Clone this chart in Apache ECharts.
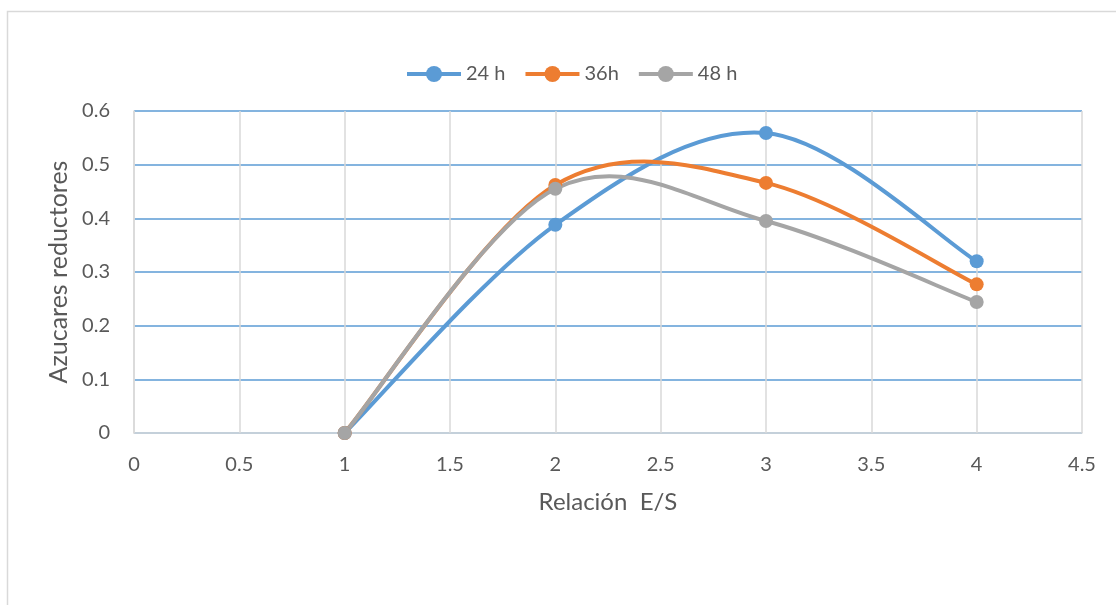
<!DOCTYPE html>
<html>
<head>
<meta charset="utf-8">
<script src="https://cdn.jsdelivr.net/npm/echarts@6/dist/echarts.min.js"></script>
<style>
  html, body { margin: 0; padding: 0; background: #ffffff; }
  #chart { width: 1116px; height: 605px; }
</style>
</head>
<body>
<div id="chart"></div>
<script>
// Relación E/S vs azúcares reductores at three incubation times
const ratios = [1, 2, 3, 4];
const values24h = [0, 0.388, 0.559, 0.320];
const values36h = [0, 0.462, 0.466, 0.277];
const values48h = [0, 0.455, 0.395, 0.244];
const seriesNames = ['24 h', '36h', '48 h'];
const seriesColors = ['#5B9BD5', '#ED7D31', '#A5A5A5'];

const FONT = 'Lato, "Open Sans", sans-serif';
const TEXT = '#595959';

function pairs(xs, ys) {
  return xs.map((x, i) => [x, ys[i]]);
}

// Smooth curve through the points (Catmull-Rom spline converted to cubic
// Bézier segments), computed in pixel space from the axis scales.
function splineSeries(ys, color) {
  const data = pairs(ratios, ys);
  return {
    type: 'custom',
    coordinateSystem: 'cartesian2d',
    data: data,
    encode: { x: 0, y: 1 },
    z: 2,
    silent: true,
    renderItem: function (params, api) {
      const i = params.dataIndex;
      if (i !== 0) return null;
      const pts = data.map(d => api.coord(d));
      const n = pts.length;
      let d = 'M' + pts[0][0] + ' ' + pts[0][1];
      for (let k = 0; k < n - 1; k++) {
        const p0 = pts[Math.max(k - 1, 0)];
        const p1 = pts[k];
        const p2 = pts[k + 1];
        const p3 = pts[Math.min(k + 2, n - 1)];
        const c1x = p1[0] + (p2[0] - p0[0]) / 6;
        const c1y = p1[1] + (p2[1] - p0[1]) / 6;
        const c2x = p2[0] - (p3[0] - p1[0]) / 6;
        const c2y = p2[1] - (p3[1] - p1[1]) / 6;
        d += ' C' + c1x + ' ' + c1y + ' ' + c2x + ' ' + c2y + ' ' + p2[0] + ' ' + p2[1];
      }
      return {
        type: 'path',
        shape: { pathData: d },
        style: { fill: 'none', stroke: color, lineWidth: 4, lineJoin: 'round', lineCap: 'round' }
      };
    },
    animation: false
  };
}

// Markers (and legend entries) for each series; the connecting curve is drawn by the spline series.
function markerSeries(name, ys, color) {
  return {
    name: name,
    type: 'line',
    data: pairs(ratios, ys),
    symbol: 'circle',
    symbolSize: 14,
    showSymbol: true,
    z: 3,
    itemStyle: { color: color },
    lineStyle: { color: color, width: 4, opacity: 0 },
    emphasis: { disabled: true },
    animation: false
  };
}

const chart = echarts.init(document.getElementById('chart'), null, { renderer: 'canvas' });
chart.setOption({
  backgroundColor: '#ffffff',
  animation: false,
  graphic: [{
    type: 'rect',
    shape: { x: 7.5, y: 11.5, width: 1200, height: 700 },
    style: { fill: 'none', stroke: '#d9d9d9', lineWidth: 1.5 },
    silent: true,
    z: -10
  }],
  legend: {
    top: 59,
    left: 400,
    itemWidth: 54,
    itemHeight: 20,
    itemGap: 18,
    lineStyle: { opacity: 1, width: 4 },
    textStyle: { color: TEXT, fontFamily: FONT, fontSize: 20 },
    data: seriesNames
  },
  grid: { left: 134, right: 34, top: 111, bottom: 172 },
  xAxis: {
    type: 'value',
    min: 0,
    max: 4.5,
    interval: 0.5,
    name: 'Relación  E/S',
    nameLocation: 'middle',
    nameGap: 57,
    nameTextStyle: { color: TEXT, fontFamily: FONT, fontSize: 24 },
    axisLine: { show: true, lineStyle: { color: '#d9d9d9', width: 1.5 } },
    axisTick: { show: false },
    axisLabel: { color: TEXT, fontFamily: FONT, fontSize: 20, margin: 22 },
    splitLine: { show: true, lineStyle: { color: '#d9d9d9', width: 1.5 } }
  },
  yAxis: {
    type: 'value',
    min: 0,
    max: 0.6,
    interval: 0.1,
    name: 'Azucares reductores',
    nameLocation: 'middle',
    nameGap: 61,
    nameRotate: 90,
    nameTextStyle: { color: TEXT, fontFamily: FONT, fontSize: 25 },
    axisLine: { show: true, lineStyle: { color: '#d9d9d9', width: 1.5 } },
    axisTick: { show: false },
    axisLabel: { color: TEXT, fontFamily: FONT, fontSize: 20, margin: 24 },
    splitLine: { show: true, lineStyle: { color: '#5B9BD5', width: 1.5 } }
  },
  series: [
    splineSeries(values24h, seriesColors[0]),
    splineSeries(values36h, seriesColors[1]),
    splineSeries(values48h, seriesColors[2]),
    markerSeries(seriesNames[0], values24h, seriesColors[0]),
    markerSeries(seriesNames[1], values36h, seriesColors[1]),
    markerSeries(seriesNames[2], values48h, seriesColors[2])
  ]
});
</script>
</body>
</html>
